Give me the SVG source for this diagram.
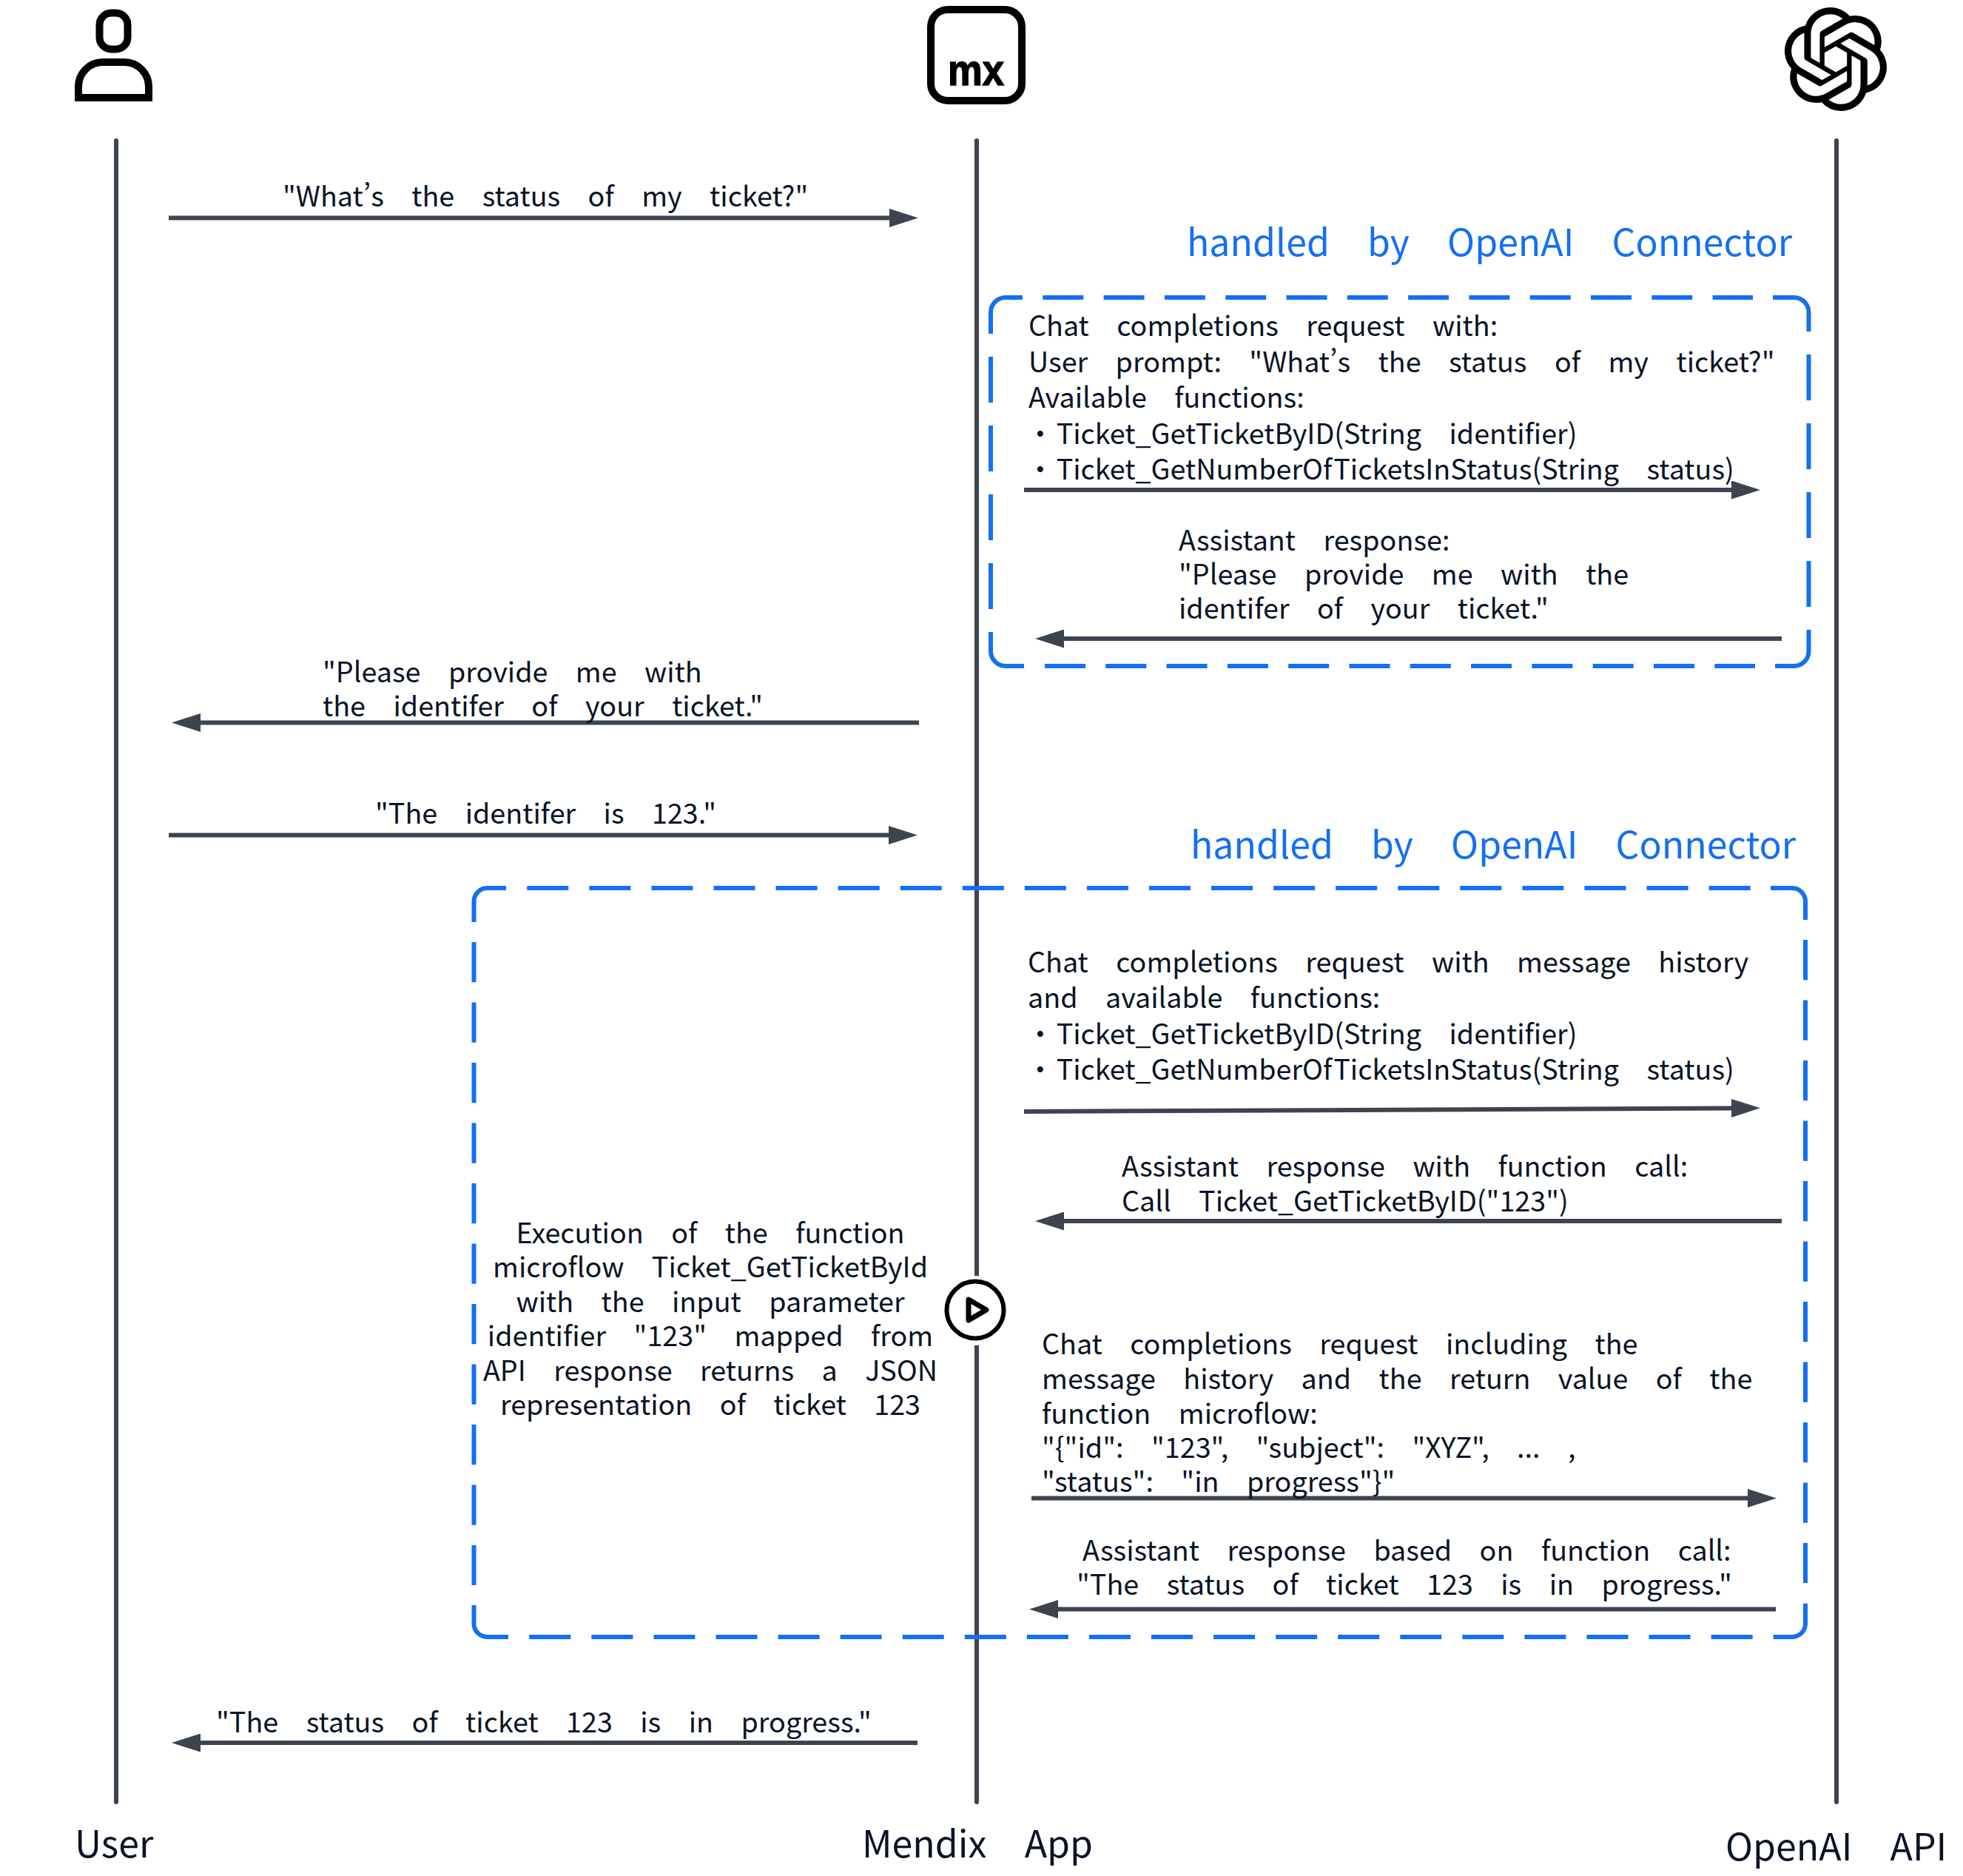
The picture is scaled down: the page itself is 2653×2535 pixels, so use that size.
<svg xmlns="http://www.w3.org/2000/svg" width="2653" height="2535" viewBox="0 0 2653 2535">
<style>
text{font-family:"Noto Sans CJK SC","Noto Sans",sans-serif;fill:#0a1326;font-size:37.700px;word-spacing:29px;font-feature-settings:"pwid"}
.c{text-anchor:middle}
.t{fill:#146ff4;font-size:50px;word-spacing:40px}
.l{font-size:50px;word-spacing:40px}
.b{word-spacing:-5.500px}
.life{stroke:#3d4450;stroke-width:6;stroke-linecap:round;fill:none}
.a{stroke:#3d4450;stroke-width:6;fill:none;marker-end:url(#h)}
.d{fill:none;stroke:#146ff4;stroke-width:6}
.hz{stroke-dasharray:56 28.07}
.h1{stroke-dasharray:55 27.3}
.vt{stroke-dasharray:54.3 27.2}
.v1{stroke-dasharray:62 31}
.ic{fill:none;stroke:#000;stroke-width:10}
</style>
<defs>
<marker id="h" markerUnits="userSpaceOnUse" markerWidth="39" markerHeight="25" viewBox="0 -12.500 39 25" refX="0" refY="0" orient="auto"><path d="M0,-12.500L39,0L0,12.500Z" fill="#3d4450"/></marker>
</defs>
<rect width="2653" height="2535" fill="#fff"/>
<g id="lifelines">
<path class="life" d="M157,190V2435"/>
<path class="life" d="M1320,190V2435"/>
<path class="life" d="M2482,190V2435"/>
</g>
<g id="node-user">
<rect class="ic" x="134.500" y="17.500" width="38" height="49" rx="16" stroke-width="9"/>
<path class="ic" d="M106,132V117A33,33 0 0 1 139,84H168A33,33 0 0 1 201,117V132Z"/>
<text class="l" x="101" y="2510">User</text>
</g>
<g id="node-mendix">
<rect class="ic" x="1258" y="13" width="123" height="123" rx="23"/>
<text x="1281" y="115" textLength="76" lengthAdjust="spacingAndGlyphs" style="font-family:'Liberation Sans',sans-serif;font-weight:700;font-size:60px;fill:#000;stroke:#000;stroke-width:1.500px;word-spacing:0">mx</text>
<text class="l" x="1165" y="2510">Mendix App</text>
</g>
<g id="node-openai">
<path transform="translate(2411,10) scale(5.83)" d="M22.2819 9.8211a5.9847 5.9847 0 0 0-.5157-4.9108 6.0462 6.0462 0 0 0-6.5098-2.9A6.0651 6.0651 0 0 0 4.9807 4.1818a5.9847 5.9847 0 0 0-3.9977 2.9 6.0462 6.0462 0 0 0 .7427 7.0966 5.98 5.98 0 0 0 .511 4.9107 6.051 6.051 0 0 0 6.5146 2.9001A5.9847 5.9847 0 0 0 13.2599 24a6.0557 6.0557 0 0 0 5.7718-4.2058 5.9894 5.9894 0 0 0 3.9977-2.9001 6.0557 6.0557 0 0 0-.7475-7.0729zm-9.022 12.6081a4.4755 4.4755 0 0 1-2.8764-1.0408l.1419-.0804 4.7783-2.7582a.7948.7948 0 0 0 .3927-.6813v-6.7369l2.02 1.1686a.071.071 0 0 1 .038.052v5.5826a4.504 4.504 0 0 1-4.4945 4.4944zm-9.6607-4.1254a4.4708 4.4708 0 0 1-.5346-3.0137l.142.0852 4.783 2.7582a.7712.7712 0 0 0 .7806 0l5.8428-3.3685v2.3324a.0804.0804 0 0 1-.0332.0615L9.74 19.9502a4.4992 4.4992 0 0 1-6.1408-1.6464zM2.3408 7.8956a4.485 4.485 0 0 1 2.3655-1.9728V11.6a.7664.7664 0 0 0 .3879.6765l5.8144 3.3543-2.0201 1.1685a.0757.0757 0 0 1-.071 0l-4.8303-2.7865A4.504 4.504 0 0 1 2.3408 7.872zm16.5963 3.8558L13.1038 8.364 15.1192 7.2a.0757.0757 0 0 1 .071 0l4.8303 2.7913a4.4944 4.4944 0 0 1-.6765 8.1042v-5.6772a.79.79 0 0 0-.407-.667zm2.0107-3.0231l-.142-.0852-4.7735-2.7818a.7759.7759 0 0 0-.7854 0L9.409 9.2297V6.8974a.0662.0662 0 0 1 .0284-.0615l4.8303-2.7866a4.4992 4.4992 0 0 1 6.6802 4.66zM8.3065 12.863l-2.02-1.1638a.0804.0804 0 0 1-.038-.0567V6.0742a4.4992 4.4992 0 0 1 7.3757-3.4537l-.142.0805L8.704 5.459a.7948.7948 0 0 0-.3927.6813zm1.0976-2.3654l2.602-1.4998 2.6069 1.4998v2.9994l-2.5974 1.4997-2.6067-1.4997Z" fill="#000"/>
<text class="l" x="2332" y="2514">OpenAI API</text>
</g>
<g id="box-1">
<path class="d" d="M1339,451V422A20,20 0 0 1 1359,402H1382"/>
<path class="d" d="M2396,402H2424.500A20,20 0 0 1 2444.500,422V448"/>
<path class="d" d="M1339,854V880A20,20 0 0 0 1359,900H1384"/>
<path class="d" d="M2399,900H2424.500A20,20 0 0 0 2444.500,880V851"/>
<path class="d h1" d="M1409.300,402H2369"/>
<path class="d h1" d="M1412,900H2372"/>
<path class="d v1" d="M1339,482V823"/>
<path class="d v1" d="M2444.500,479V820"/>
<text class="t" x="1604" y="346">handled by OpenAI Connector</text>
</g>
<g id="box-2">
<path class="d" d="M640.500,1246V1218A18,18 0 0 1 658.500,1200H684"/>
<path class="d" d="M2393,1200H2422A18,18 0 0 1 2440,1218V1243"/>
<path class="d" d="M640.500,2169V2194A18,18 0 0 0 658.500,2212H687"/>
<path class="d" d="M2396.700,2212H2422A18,18 0 0 0 2440,2194V2166.700"/>
<path class="d hz" d="M712.300,1200H2366"/>
<path class="d hz" d="M715.300,2212H2369"/>
<path class="d vt" d="M640.500,1273V2142"/>
<path class="d vt" d="M2440,1270V2139"/>
<text class="t" x="1609" y="1160">handled by OpenAI Connector</text>
</g>
<g id="connectors">
<path class="a" d="M228,294.500H1202"/>
<path class="a" d="M1384,662H2340"/>
<path class="a" d="M2408,863H1438"/>
<path class="a" d="M1242,976.500H271"/>
<path class="a" d="M228,1128.500H1201"/>
<path class="a" d="M1384,1502L2340,1497.500"/>
<path class="a" d="M2408,1650H1438"/>
<path class="a" d="M1394,2024.500H2362"/>
<path class="a" d="M2400,2174.500H1430"/>
<path class="a" d="M1240,2355H271"/>
</g>
<g id="node-play">
<circle cx="1319" cy="1771" r="47" fill="#fff"/>
<circle cx="1318" cy="1770" r="38.500" fill="#fff" stroke="#000" stroke-width="6"/>
<path d="M1309,1756L1333,1770L1309,1784Z" fill="none" stroke="#000" stroke-width="7" stroke-linejoin="round"/>
</g>
<g id="labels">
<text x="382" y="278.500">"What’s the status of my ticket?"</text>
<text x="1390" y="454">Chat completions request with:</text>
<text x="1390" y="502.500">User prompt: "What’s the status of my ticket?"</text>
<text x="1390" y="551">Available functions:</text>
<text x="1387" y="600"><tspan class="b">• </tspan>Ticket_GetTicketByID(String identifier)</text>
<text x="1387" y="648"><tspan class="b">• </tspan>Ticket_GetNumberOfTicketsInStatus(String status)</text>
<text x="1593" y="744">Assistant response:</text>
<text x="1593" y="790">"Please provide me with the</text>
<text x="1593" y="836">identifer of your ticket."</text>
<text x="436" y="922">"Please provide me with</text>
<text x="436" y="968">the identifer of your ticket."</text>
<text x="507" y="1113">"The identifer is 123."</text>
<text x="1389" y="1314">Chat completions request with message history</text>
<text x="1389" y="1362">and available functions:</text>
<text x="1387" y="1411"><tspan class="b">• </tspan>Ticket_GetTicketByID(String identifier)</text>
<text x="1387" y="1459"><tspan class="b">• </tspan>Ticket_GetNumberOfTicketsInStatus(String status)</text>
<text x="1516" y="1590">Assistant response with function call:</text>
<text x="1516" y="1637">Call Ticket_GetTicketByID("123")</text>
<text class="c" x="960" y="1680">Execution of the function</text>
<text class="c" x="960" y="1726">microflow Ticket_GetTicketById</text>
<text class="c" x="960" y="1773">with the input parameter</text>
<text class="c" x="960" y="1819">identifier "123" mapped from</text>
<text class="c" x="960" y="1866">API response returns a JSON</text>
<text class="c" x="960" y="1912">representation of ticket 123</text>
<text x="1408" y="1830">Chat completions request including the</text>
<text x="1408" y="1877">message history and the return value of the</text>
<text x="1408" y="1924">function microflow:</text>
<text x="1408" y="1970">"{"id": "123", "subject": "XYZ", ... ,</text>
<text x="1408" y="2016">"status": "in progress"}"</text>
<text x="1463" y="2109">Assistant response based on function call:</text>
<text x="1455" y="2155">"The status of ticket 123 is in progress."</text>
<text x="292" y="2341">"The status of ticket 123 is in progress."</text>
</g>
</svg>
